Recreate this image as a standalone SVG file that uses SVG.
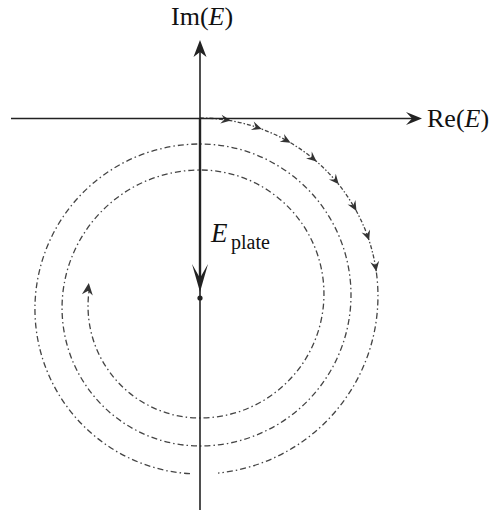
<svg xmlns="http://www.w3.org/2000/svg" xmlns:xlink="http://www.w3.org/1999/xlink" width="495" height="513" viewBox="0 0 495 513">
<style>
.axis{stroke:#222;stroke-width:1.6;fill:none}
.spiral{stroke:#444;stroke-width:1.3;fill:none;stroke-dasharray:6 3 1.5 3}
.spiralA{stroke:#444;stroke-width:1.3;fill:none;stroke-dasharray:4 2 1.5 2}
.lbl{font-family:"Liberation Serif","Times New Roman",serif;fill:#111}
.ah{fill:#333}
</style>
<defs>
<path id="ah" d="M4,0 L-6,-4.5 L-2.5,0 L-6,4.5 Z"/>
<path id="ahEnd" d="M5,0 L-7,-5.5 L-3,0 L-7,5.5 Z"/>
</defs>
<rect width="495" height="513" fill="#fff"/>
<g id="connectors">
  <g id="spiral">
    <path class="spiralA" d="M200,118 A178,178 0 0 1 376.4,272.5"/>
    <path class="spiral" d="M376.4,272.5 A178,178 0 0 1 218,473.1"/>
    <path class="spiral" d="M190,473.7 A165,165 0 0 1 200,144 A151,151 0 0 1 200,446 A138,138 0 0 1 200,170 A124,124 0 0 1 200,418 A112,112 0 0 1 88.9,292"/>
    <g class="ah">
      <use xlink:href="#ah" transform="translate(226.9,120.0) rotate(8.7)"/>
      <use xlink:href="#ah" transform="translate(258.0,127.7) rotate(19)"/>
      <use xlink:href="#ah" transform="translate(287.1,140.8) rotate(29.3)"/>
      <use xlink:href="#ah" transform="translate(313.5,158.9) rotate(39.6)"/>
      <use xlink:href="#ah" transform="translate(336.2,181.3) rotate(49.9)"/>
      <use xlink:href="#ah" transform="translate(354.5,207.5) rotate(60.2)"/>
      <use xlink:href="#ah" transform="translate(367.8,236.6) rotate(70.5)"/>
      <use xlink:href="#ah" transform="translate(375.7,267.5) rotate(80.8)"/>
      <use xlink:href="#ahEnd" transform="translate(88.2,288) rotate(-83)"/>
    </g>
  </g>
</g>
<g id="axis-re">
  <line class="axis" x1="11" y1="118.5" x2="418" y2="118.5"/>
  <path d="M422,118.5 L406,112 L412,118.5 L406,125 Z" fill="#222"/>
  <text class="lbl" x="427" y="127" font-size="26">Re(<tspan font-style="italic">E</tspan>)</text>
</g>
<g id="axis-im">
  <line class="axis" x1="200" y1="44" x2="200" y2="510"/>
  <path d="M200,40 L193.5,57 L200,52 L206.5,57 Z" fill="#222"/>
  <text class="lbl" x="171" y="25" font-size="26">Im(<tspan font-style="italic">E</tspan>)</text>
</g>
<g id="e-plate">
  <line x1="200" y1="118" x2="200" y2="280" stroke="#222" stroke-width="2.4"/>
  <path d="M200,292 L192,264 L200,278 L208,264 Z" fill="#222"/>
  <circle cx="200" cy="298" r="2.6" fill="#222"/>
  <text class="lbl" x="211" y="242" font-size="27" font-style="italic">E</text>
  <text class="lbl" x="231" y="249" font-size="20">plate</text>
</g>
</svg>
